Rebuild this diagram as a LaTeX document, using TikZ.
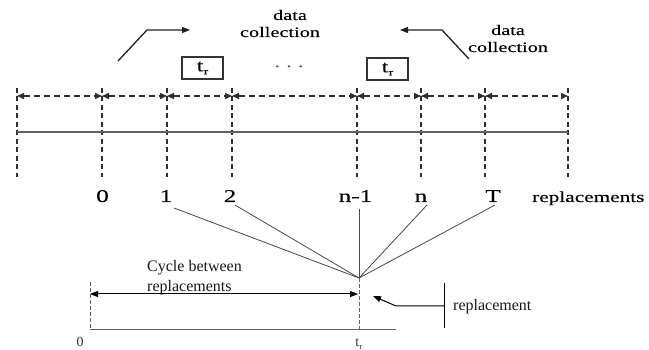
\documentclass[tikz,border=0pt]{standalone}
\usepackage{fontspec}
\usepackage{graphicx}
\setmainfont{Liberation Serif}
\newfontfamily\heavyserif[FakeBold=0.05]{Liberation Serif}
\usetikzlibrary{arrows.meta}
% wide lettering for the upper part of the figure
\newcommand\wide[1]{\scalebox{1.4}[1]{#1}}
\newcommand\subr[2]{t\kern0.4pt\raisebox{-#2pt}{\fontsize{#1}{#1}\selectfont r}}

\tikzset{
  tickline/.style={draw=black!82, line width=1.4pt, dash pattern=on 5pt off 3.5pt},
  spanarrow/.style={draw=black!82, line width=1.4pt, dash pattern=on 6pt off 4pt,
    {Triangle[length=7pt,width=6pt]}-{Triangle[length=7pt,width=6pt]}},
  axis/.style={draw=black!62, line width=1.5pt},
  ticklabel/.style={inner sep=0pt, anchor=base, text=black,
    font=\heavyserif\fontsize{18}{20}\selectfont},
  topnote/.style={inner sep=0pt, anchor=base, text=black,
    font=\heavyserif\fontsize{14.5}{16}\selectfont},
  bentarrow/.style={draw=black!88, line width=1.3pt, -{Triangle[length=8pt,width=6pt]}},
  trbox/.style={draw=black!80, line width=1.5pt, inner sep=0pt,
    minimum width=41pt, minimum height=22pt, text=black,
    font=\heavyserif\fontsize{17}{18}\selectfont},
  spoke/.style={draw=black!72, line width=0.8pt},
  lowline/.style={draw=black!62, line width=1pt},
  lowdash/.style={draw=black!62, line width=1pt, dash pattern=on 4pt off 2pt},
  lownote/.style={inner sep=0pt, anchor=base west, text=black!90,
    font=\fontsize{16}{18}\selectfont},
  lowtick/.style={inner sep=0pt, anchor=base, text=black!80,
    font=\fontsize{14}{15}\selectfont},
  solidarrow/.style={draw=black, line width=1pt},
  tipboth/.style={{Triangle[length=8pt,width=6pt]}-{Triangle[length=8pt,width=6pt]}},
}

\begin{document}
\begin{tikzpicture}[x=1pt,y=-1pt]
\useasboundingbox[fill=white] (0,0) rectangle (649,350);

% ---- time axis with dashed marks ----
\foreach \n/\x in {0/17,1/102,2/167,3/232,4/357,5/421,6/485,7/568} {
  \coordinate (tt\n) at (\x,88);
  \coordinate (tb\n) at (\x,177);
  \coordinate (ta\n) at (\x,96);
  \coordinate (ax\n) at (\x,132);
  \draw[tickline] (tt\n) -- (tb\n);
}
\foreach \a/\b in {0/1,1/2,2/3,3/4,4/5,5/6,6/7}
  \draw[spanarrow] (ta\a) -- (ta\b);
\draw[axis] (ax0) -- (ax7);

% ---- replacement indices ----
\node[ticklabel] (l0) at (102.5,202) {\wide{0}};
\node[ticklabel] (l1) at (166,202) {\wide{1}};
\node[ticklabel] (l2) at (230,202) {\wide{2}};
\node[ticklabel] (lnm) at (355.5,202) {\wide{n-1}};
\node[ticklabel] (ln) at (421,202) {\wide{n}};
\node[ticklabel] (lT) at (493,202) {\wide{T}};
\node[topnote, anchor=base west, font=\heavyserif\fontsize{15.2}{16}\selectfont]
  (lrep) at (532,202) {\wide{replacements}};

% ---- data collection notes ----
\node[topnote] (dcl1) at (290,20) {\wide{data}};
\node[topnote] (dcl2) at (280,37) {\wide{collection}};
\node[topnote] (dcr1) at (508,35) {\wide{data}};
\node[topnote] (dcr2) at (508,52) {\wide{collection}};

\coordinate (bl0) at (118,61);
\coordinate (bl1) at (147,30);
\coordinate (bl2) at (190,30);
\draw[bentarrow] (bl0) -- (bl1) -- (bl2);
\coordinate (br0) at (469,59);
\coordinate (br1) at (442,30);
\coordinate (br2) at (400,30);
\draw[bentarrow] (br0) -- (br1) -- (br2);

% ---- tr boxes and ellipsis ----
\node[trbox] (box1) at (202.5,68) {\wide{\subr{9}{3}}};
\node[trbox] (box2) at (387.5,69) {\wide{\subr{9}{3}}};
\node[topnote, anchor=base, text=black!70] (dots) at (289,67) {\wide{.\,\,.\,\,.}};

% ---- spokes to the replacement instant ----
\coordinate (conv) at (359,278);
\coordinate (s1) at (174,208);
\coordinate (s2) at (235,205);
\coordinate (snm) at (359,209);
\coordinate (sn) at (427,205);
\coordinate (sT) at (495,205);
\foreach \s in {s1,s2,snm,sn,sT}
  \draw[spoke] (\s) -- (conv);

% ---- replacement cycle ----
\coordinate (c0top) at (90,282);
\coordinate (c0bot) at (90,330);
\coordinate (crbot) at (359,330);
\coordinate (cend) at (396,330);
\draw[lowdash] (c0top) -- (c0bot);
\draw[lowdash] (conv) -- (crbot);
\draw[lowline] (c0bot) -- (cend);
\coordinate (ca) at (90,294);
\coordinate (cb) at (358,294);
\draw[solidarrow, tipboth] (ca) -- (cb);
\node[lownote] (cyc1) at (147,272) {Cycle between};
\node[lownote] (cyc2) at (147,291) {replacements};
\node[lowtick] (z0) at (80,347) {0};
\node[lowtick] (ztr) at (359,347) {\subr{8.5}{2.5}};

% ---- replacement callout ----
\coordinate (rbt) at (444,283);
\coordinate (rbb) at (444,328);
\coordinate (rmid) at (444,306);
\coordinate (rknee) at (396,306);
\coordinate (rtip) at (373,296);
\draw[solidarrow] (rbt) -- (rbb);
\draw[solidarrow, -{Triangle[length=8pt,width=6pt]}] (rmid) -- (rknee) -- (rtip);
\node[lownote] (rlab) at (453,311) {replacement};
\end{tikzpicture}
\end{document}
